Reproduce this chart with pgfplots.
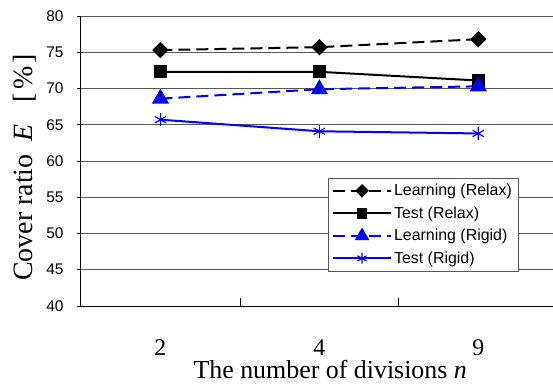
\documentclass[border=0pt]{standalone}
\usepackage{fontspec}
\setmainfont{Liberation Serif}
\newfontfamily\arial{Liberation Sans}
\usepackage{pgfplots}
\pgfplotsset{compat=1.18}
\definecolor{gridc}{gray}{0.35}
\definecolor{myblue}{RGB}{0,0,255}
\begin{document}
\begin{tikzpicture}
\begin{axis}[
  at={(0,0)}, anchor=south west,
  scale only axis, width=472bp, height=290bp,
  xmin=-0.5, xmax=2.47, ymin=40, ymax=80,
  axis x line*=bottom, axis y line*=left,
  axis line style={black, line width=1bp},
  ytick={40,45,...,80}, ymajorgrids,
  grid style={gridc, line width=0.9bp},
  xtick={0,1,2}, xticklabels={2,4,9},
  xtick style={draw=none},
  ytick style={black, line width=0.8bp},
  tick align=outside, major tick length=4bp,
  /pgf/number format/assume math mode=true,
  yticklabel style={font=\arial\fontsize{15.5}{16}\selectfont, anchor=east, xshift=-10bp},
  xticklabel style={font=\fontsize{24}{24}\selectfont, anchor=base, yshift=-45bp},
  xlabel={The number of divisions \textit{n}},
  ylabel={Cover ratio\hspace{0.45em}\textit{E}\hspace{0.8em}[\hspace{0.12em}\%\hspace{0.12em}]},
  xlabel style={font=\fontsize{26}{26}\selectfont, at={(axis description cs:0.528,-0.25)}, anchor=base},
  ylabel style={font=\fontsize{28}{28}\selectfont, at={(axis description cs:-0.119,0.478)}, anchor=center},
  legend style={at={(axis description cs:0.926,0.441)}, anchor=north east,
    font=\arial\fontsize{16}{18}\selectfont, draw=gridc,
    row sep=5.5bp, inner sep=4bp, cells={anchor=west}},
  legend image code/.code={\draw[mark repeat=2,mark phase=2,#1, every mark/.append style={scale=0.8}] plot coordinates {(0bp,0bp) (29bp,0bp) (58bp,0bp)};},
  clip=false,
]
\addplot[black, line width=2bp, dash pattern=on 12bp off 6bp, mark=square*, mark size=4.8bp, mark options={solid, rotate=45}]
  coordinates {(0,75.3) (1,75.7) (2,76.8)};
\addlegendentry{Learning (Relax)}
\addplot[black, line width=2bp, mark=square*, mark size=5.5bp, mark options={solid}]
  coordinates {(0,72.3) (1,72.3) (2,71.1)};
\addlegendentry{Test (Relax)}
\addplot[myblue, line width=2bp, dash pattern=on 12bp off 6bp, mark=triangle*, mark size=8bp, mark options={solid}]
  coordinates {(0,68.6) (1,69.9) (2,70.3)};
\addlegendentry{Learning (Rigid)}
\addplot[myblue, line width=2bp, mark=asterisk, mark size=6.5bp, mark options={solid, line width=1.2bp}]
  coordinates {(0,65.7) (1,64.1) (2,63.8)};
\addlegendentry{Test (Rigid)}
\draw[black, line width=0.8bp] (axis cs:0.5,40) -- ([yshift=8bp]axis cs:0.5,40);
\draw[black, line width=0.8bp] (axis cs:1.5,40) -- ([yshift=8bp]axis cs:1.5,40);
\end{axis}
\pgfresetboundingbox
\path (-81bp,-79bp) rectangle (472bp,306bp);
\end{tikzpicture}
\end{document}
